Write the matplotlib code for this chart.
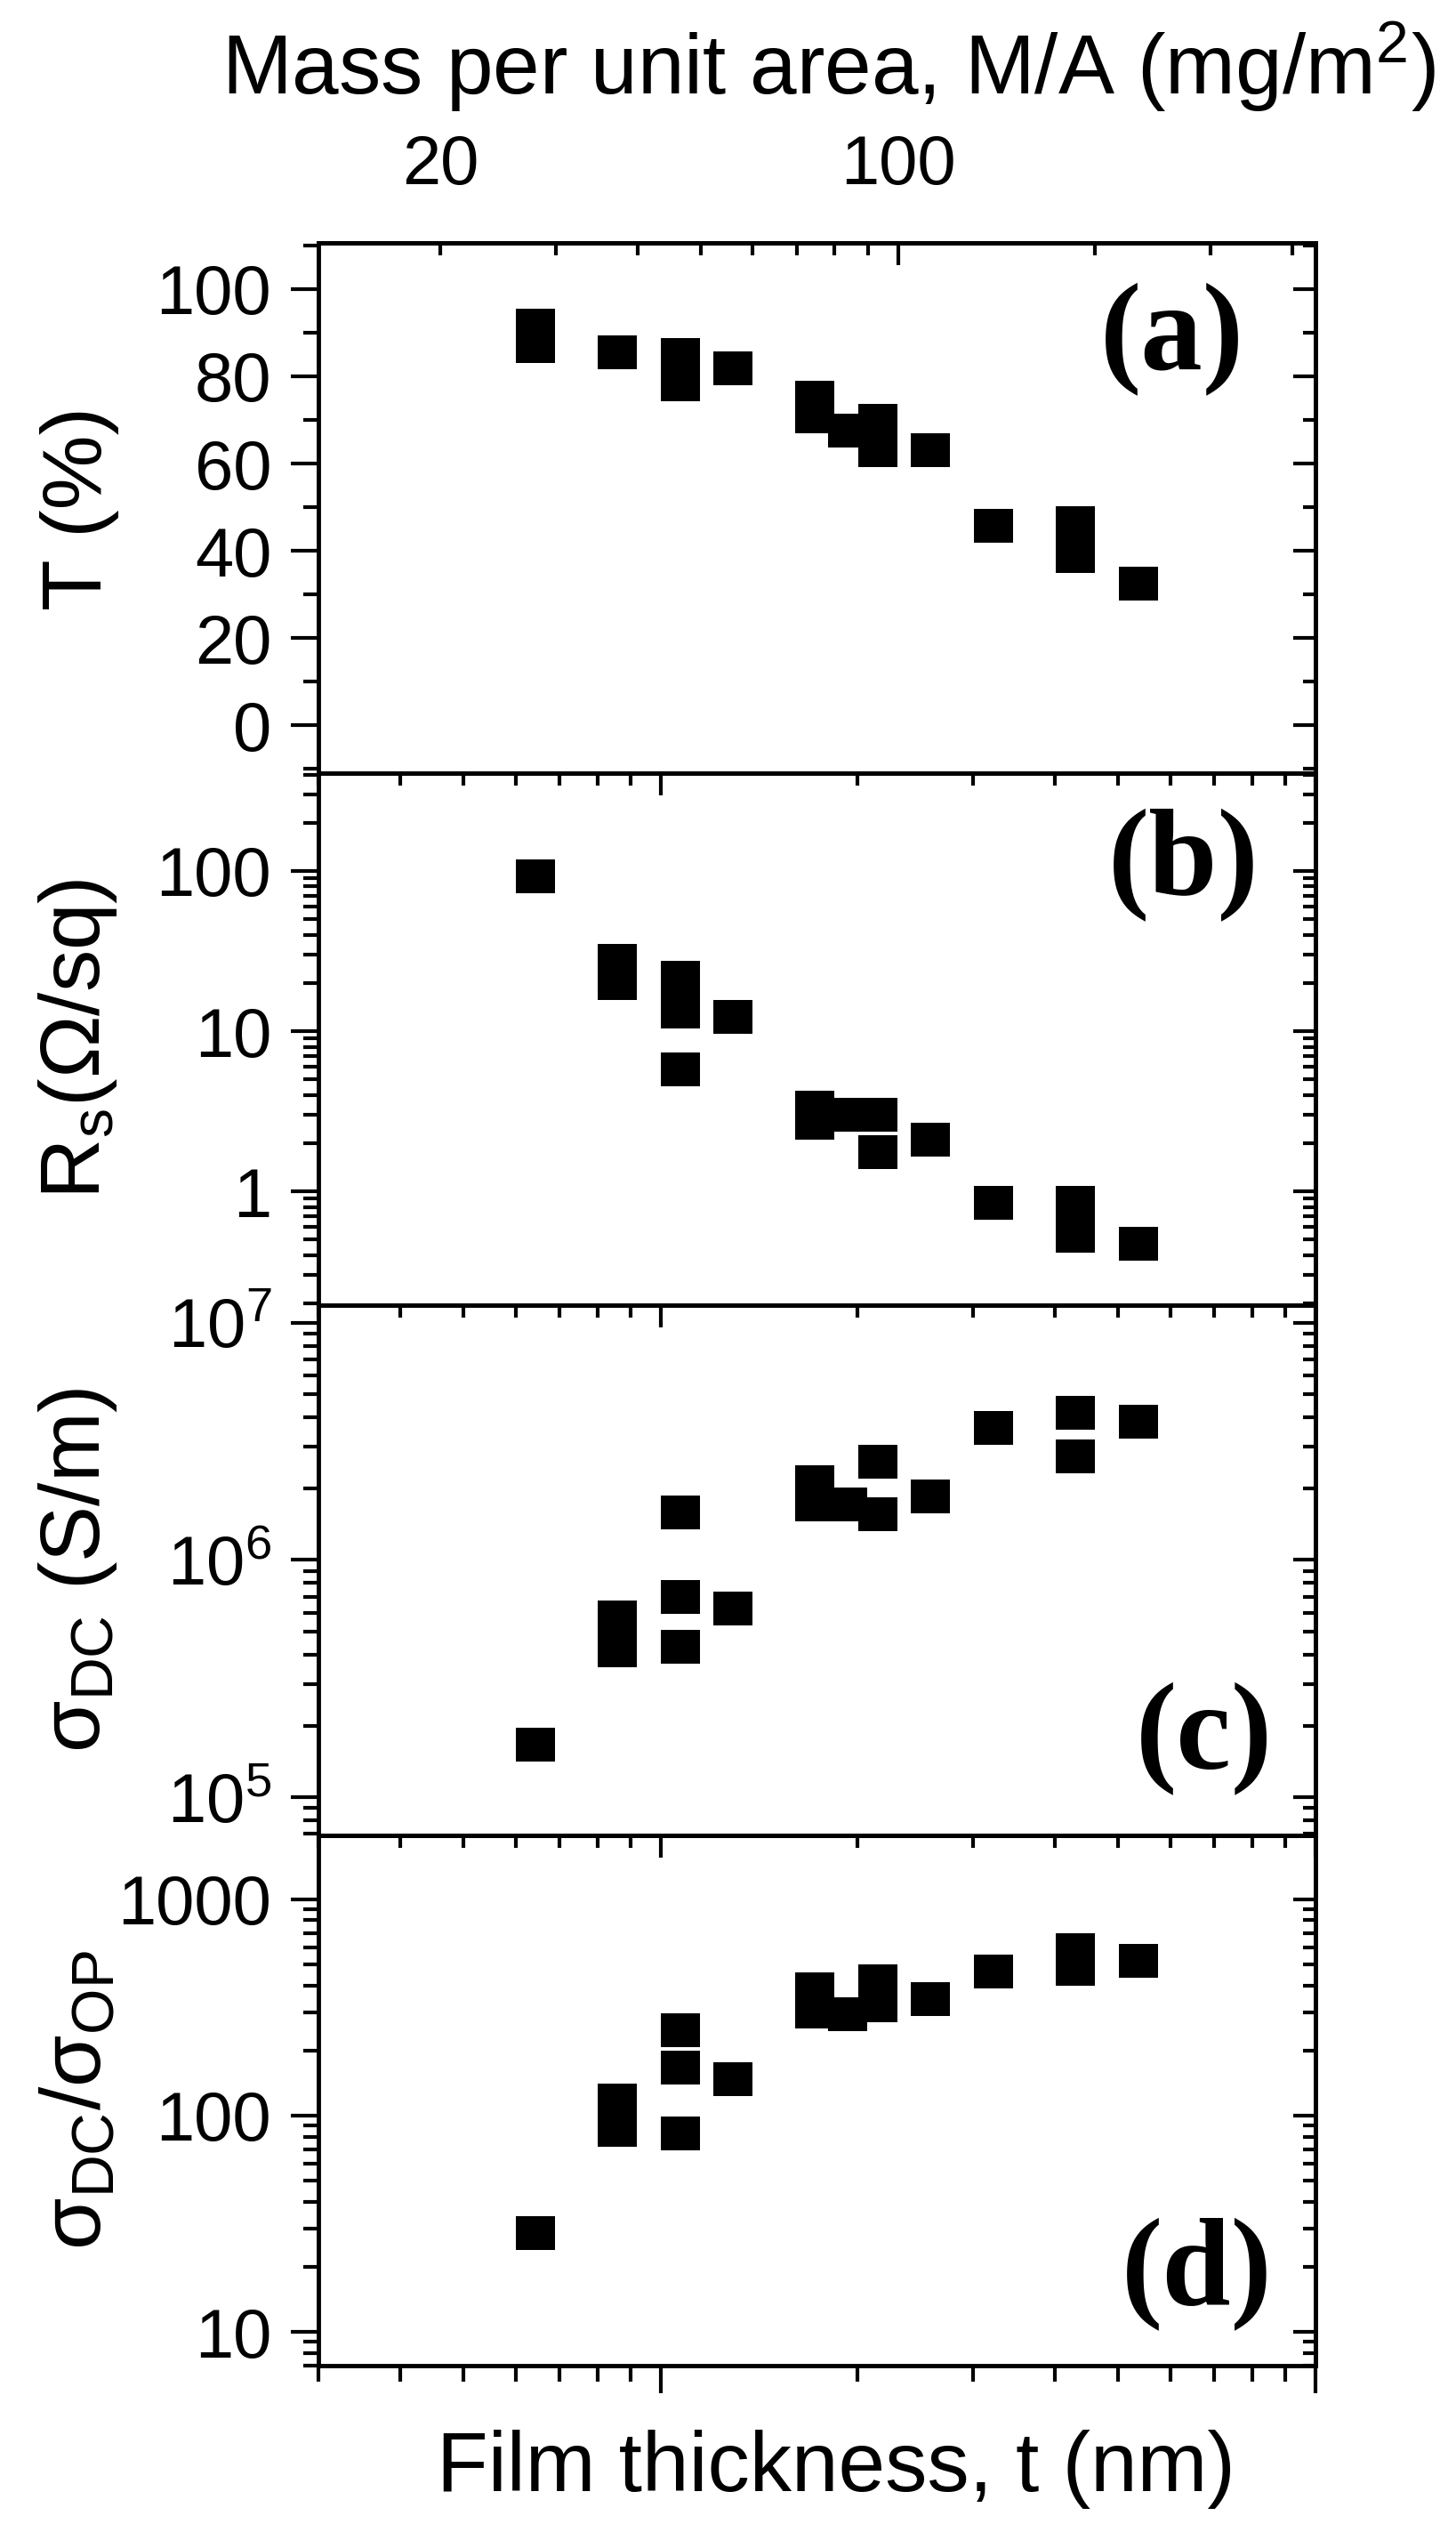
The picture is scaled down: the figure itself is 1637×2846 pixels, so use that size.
import numpy as np
import matplotlib
matplotlib.use("Agg")
import matplotlib.pyplot as plt
from matplotlib.ticker import (LogLocator, NullFormatter, FuncFormatter,
                               MultipleLocator, FixedLocator)

plt.rcParams['font.family'] = ['Liberation Sans', 'DejaVu Sans']
plt.rcParams['mathtext.fontset'] = 'custom'
plt.rcParams['mathtext.rm'] = 'Liberation Sans'
plt.rcParams['mathtext.it'] = 'Liberation Sans:italic'
plt.rcParams['mathtext.bf'] = 'Liberation Sans:bold'

# film thickness (nm) of each sample
thickness = [6.44, 6.44, 8.59, 10.73, 10.73, 10.73, 12.89, 17.16, 17.16,
             19.31, 21.47, 21.47, 25.78, 32.22, 42.97, 42.97, 53.67]
thickness_rs = [6.44, 8.59, 8.59, 10.73, 10.73, 10.73, 12.89, 17.16, 17.16,
                19.31, 21.47, 21.47, 25.78, 32.22, 42.97, 42.97, 53.67]

transmittance = [91.6, 87.0, 85.5, 84.8, 81.3, 78.1, 81.8, 75.0, 70.8,
                 67.5, 69.7, 63.1, 63.1, 45.8, 46.3, 38.7, 32.4]
sheet_res = [92.5, 27.5, 19.9, 21.6, 13.3, 5.78, 12.3, 3.32, 2.67,
             3.0, 3.0, 1.75, 2.10, 0.845, 0.845, 0.53, 0.47]
sigma_dc = [1.66e5, 5.73e5, 4.17e5, 1.59e6, 6.97e5, 4.32e5, 6.25e5, 2.13e6, 1.71e6,
            1.72e6, 2.60e6, 1.56e6, 1.85e6, 3.59e6, 4.19e6, 2.74e6, 3.83e6]
fom = [28.7, 117, 86, 249, 166, 83, 148, 383, 303,
       294, 417, 323, 345, 463, 581, 476, 521]

density = 4.34  # mg/m^2 per nm, for the top axis

fig = plt.figure(figsize=(16.37, 28.46), dpi=100)
W, H = 1637., 2846.
left, right = 358 / W, 1479 / W
edges = [273, 869, 1466.7, 2063, 2659]

axes = []
for i in range(4):
    ax = fig.add_axes([left, 1 - edges[i + 1] / H, right - left,
                       (edges[i + 1] - edges[i]) / H])
    axes.append(ax)
ax_a, ax_b, ax_c, ax_d = axes

# slightly wide filled rectangle, like the original symbols
rect = [(-1.15, -1), (1.15, -1), (1.15, 1), (-1.15, 1), (-1.15, -1)]

sets = [(thickness, transmittance), (thickness_rs, sheet_res),
        (thickness_rs, sigma_dc), (thickness_rs, fom)]
for ax, (x, y) in zip(axes, sets):
    ax.plot(x, y, ls='none', marker=rect, color='black', ms=31, mew=0)

lw = 3.5
for k, ax in enumerate(axes):
    for s in ax.spines.values():
        s.set_linewidth(lw)
    ax.set_xscale('log')
    ax.set_xlim(3, 100)
    ax.xaxis.set_major_locator(LogLocator(base=10, numticks=10))
    ax.xaxis.set_minor_locator(LogLocator(base=10, subs=np.arange(2, 10) * 1.0, numticks=50))
    ax.xaxis.set_minor_formatter(NullFormatter())
    ax.tick_params(axis='x', which='both', direction='out', width=3,
                   top=False, labelbottom=False, bottom=(k == 3))
    ax.tick_params(axis='x', which='major', length=22)
    ax.tick_params(axis='x', which='minor', length=13)
    ax.tick_params(axis='y', which='both', direction='out', width=3,
                   right=False, labelsize=56, pad=16)
    ax.tick_params(axis='y', which='major', length=22)
    ax.tick_params(axis='y', which='minor', length=12)

# panel (a) linear
ax_a.set_ylim(-11, 110.6)
ax_a.yaxis.set_major_locator(MultipleLocator(20))
ax_a.yaxis.set_minor_locator(MultipleLocator(10))

plain = FuncFormatter(lambda v, p: f'{v:g}')
for ax, lim in [(ax_b, (0.196, 408)), (ax_c, (6.9e4, 1.19e7)), (ax_d, (6.98, 1977))]:
    ax.set_yscale('log')
    ax.set_ylim(*lim)
    ax.yaxis.set_major_locator(LogLocator(base=10, numticks=20))
    ax.yaxis.set_minor_locator(LogLocator(base=10, subs=np.arange(2, 10) * 1.0, numticks=50))
    ax.yaxis.set_minor_formatter(NullFormatter())
ax_b.yaxis.set_major_formatter(plain)
ax_d.yaxis.set_major_formatter(plain)

# mirrored inward ticks on right (all) and top (b, c, d)
for k, ax in enumerate(axes):
    sr = ax.secondary_yaxis('right')
    if k > 0:
        sr.yaxis.set_major_locator(LogLocator(base=10, numticks=20))
        sr.yaxis.set_minor_locator(LogLocator(base=10, subs=np.arange(2, 10) * 1.0, numticks=50))
    else:
        sr.yaxis.set_major_locator(MultipleLocator(20))
        sr.yaxis.set_minor_locator(MultipleLocator(10))
    sr.tick_params(which='both', direction='in', width=3, labelright=False)
    sr.tick_params(which='major', length=18)
    sr.tick_params(which='minor', length=10)
    sr.spines['right'].set_linewidth(lw)
    if k > 0:
        st = ax.secondary_xaxis('top')
        st.xaxis.set_major_locator(LogLocator(base=10, numticks=10))
        st.xaxis.set_minor_locator(LogLocator(base=10, subs=np.arange(2, 10) * 1.0, numticks=50))
        st.tick_params(which='both', direction='in', width=3, labeltop=False)
        st.tick_params(which='major', length=18)
        st.tick_params(which='minor', length=10)
        st.spines['top'].set_linewidth(lw)

# top axis of (a): mass per unit area
mass_ax = ax_a.secondary_xaxis('top', functions=(lambda t: t * density,
                                                  lambda m: m / density))
mass_ax.xaxis.set_major_locator(FixedLocator([100]))
mass_ax.xaxis.set_minor_locator(FixedLocator([20, 30, 40, 50, 60, 70, 80, 90, 200, 300, 400]))
mass_ax.xaxis.set_major_formatter(plain)
mass_ax.xaxis.set_minor_formatter(FuncFormatter(lambda v, p: '20' if abs(v - 20) < 1e-6 else ''))
mass_ax.tick_params(which='both', direction='in', width=3, labelsize=56, pad=36)
mass_ax.tick_params(which='major', length=18)
mass_ax.tick_params(which='minor', length=10)
mass_ax.spines['top'].set_linewidth(lw)

ylabels = ['T (%)', r'R$_{\mathrm{s}}$(Ω/sq)', r'σ$_{\mathrm{DC}}$ (S/m)',
           r'σ$_{\mathrm{DC}}$/σ$_{\mathrm{OP}}$']
for ax, lab in zip(axes, ylabels):
    ax.set_ylabel(lab, fontsize=68)
    ax.yaxis.set_label_coords(-0.2, 0.5)

letters = ['(a)', '(b)', '(c)', '(d)']
letter_pos = [(0.784, 0.817), (0.792, 0.826), (0.820, 0.181), (0.805, 0.171)]
for ax, lt, (px, py) in zip(axes, letters, letter_pos):
    ax.text(px, py, lt, transform=ax.transAxes, ha='left', va='center',
            fontsize=100, fontweight='bold', family='Liberation Serif')

fig.text(0.569, 1 - 106 / H, 'Mass per unit area, M/A (mg/m$^2$)',
         ha='center', va='baseline', fontsize=68)
fig.text(0.574, 1 - 2800 / H, 'Film thickness, t (nm)',
         ha='center', va='baseline', fontsize=68)

fig.savefig('out.png', dpi=100)
